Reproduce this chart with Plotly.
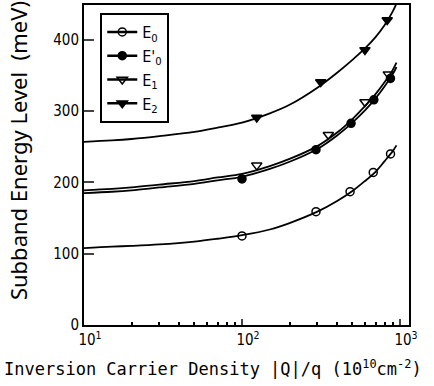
import plotly.graph_objects as go

curve_x = [10, 15, 20, 30, 50, 70, 100, 150, 200, 300, 400, 500, 600, 700, 800, 900, 950]
e0_curve = [108, 110, 111, 113, 117, 121, 126, 134, 143, 159, 174, 188, 202, 215, 230, 244, 252]
e0p_curve = [185, 187, 189, 193, 198, 203, 208, 219, 229, 247, 266, 284, 301, 318, 335, 352, 362]
e1_curve = [189, 191, 193, 197, 202, 207, 212, 223, 233, 251, 270, 289, 307, 324, 341, 358, 368]
e2_curve = [257, 259, 261, 265, 271, 277, 284, 297, 309, 333, 354, 372, 388, 404, 421, 440, 451]

e0_mx = [100, 294, 483, 677, 871]
e0_my = [125, 159, 187, 214, 240]
e0p_mx = [100, 294, 490, 683, 870]
e0p_my = [205, 246, 283, 316, 346]
e1_mx = [124, 352, 600, 843]
e1_my = [224, 267, 313, 352]
e2_mx = [124, 315, 600, 830]
e2_my = [291, 341, 386, 428]

names = ["E<sub>0</sub>", "E'<sub>0</sub>", "E<sub>1</sub>", "E<sub>2</sub>"]
symbols = ["circle-open", "circle", "triangle-down-open", "triangle-down"]
sizes = [8, 8, 9, 9]

x_tickvals = [10, 100, 1000]
x_ticktext = ["10<sup>1</sup>", "10<sup>2</sup>", "10<sup>3</sup>"]
x_minorvals = [20, 30, 40, 50, 60, 70, 80, 90, 200, 300, 400, 500, 600, 700, 800, 900]
y_tickvals = [0, 100, 200, 300, 400]

x_title = "Inversion Carrier Density |Q|/q (10<sup>10</sup>cm<sup>-2</sup>)"
y_title = "Subband Energy Level  (meV)"

fig = go.Figure()
curves = [e0_curve, e0p_curve, e1_curve, e2_curve]
mxs = [e0_mx, e0p_mx, e1_mx, e2_mx]
mys = [e0_my, e0p_my, e1_my, e2_my]

for i in range(4):
    fig.add_trace(go.Scatter(x=curve_x, y=curves[i], mode="lines", line=dict(color="black", width=1.8, shape="spline"),
                             showlegend=False, hoverinfo="skip"))
    fig.add_trace(go.Scatter(x=mxs[i], y=mys[i], mode="markers",
                             marker=dict(symbol=symbols[i], size=sizes[i], color="black",
                                         line=dict(color="black", width=1.5)),
                             showlegend=False))
    fig.add_trace(go.Scatter(x=[None], y=[None], mode="lines+markers", name=names[i],
                             line=dict(color="black", width=2.5),
                             marker=dict(symbol=symbols[i], size=sizes[i], color="black",
                                         line=dict(color="black", width=1.5))))

fig.update_layout(
    width=434, height=386,
    margin=dict(l=84, r=25, t=3, b=61),
    paper_bgcolor="white", plot_bgcolor="white",
    font=dict(family="Liberation Sans Narrow, DejaVu Sans Condensed, Roboto, sans-serif", size=15, color="black"),
    legend=dict(x=0.05, y=0.975, xanchor="left", yanchor="top", bordercolor="black", borderwidth=2,
                bgcolor="white", font=dict(size=16), itemwidth=30, tracegroupgap=0),
    annotations=[
        dict(text=x_title, xref="paper", yref="paper",
             x=-82/325, y=-30/322, xanchor="left", yanchor="top", showarrow=False,
             font=dict(family="DejaVu Sans Mono", size=17, color="black")),
        dict(text=y_title, xref="paper", yref="paper", textangle=-90,
             x=-66/325, y=(325-150)/322, xanchor="center", yanchor="middle", showarrow=False,
             font=dict(family="Noto Sans, sans-serif", size=22, color="black")),
    ],
)
fig.update_xaxes(type="log", range=[1, 3.057], tickvals=x_tickvals, ticktext=x_ticktext, ticks="inside",
                 ticklen=6, tickwidth=1.5, showline=True, linewidth=2, linecolor="black", mirror=True,
                 showgrid=False, zeroline=False, ticklabelshift=6,
                 minor=dict(tickvals=x_minorvals, ticks="inside", ticklen=3, tickcolor="black", showgrid=False))
fig.update_yaxes(range=[0, 449], tickvals=y_tickvals, ticks="inside", ticklen=10, tickwidth=1.5,
                 showline=True, linewidth=2, linecolor="black", mirror=True, showgrid=False, zeroline=False)
fig.write_html("out.html")
